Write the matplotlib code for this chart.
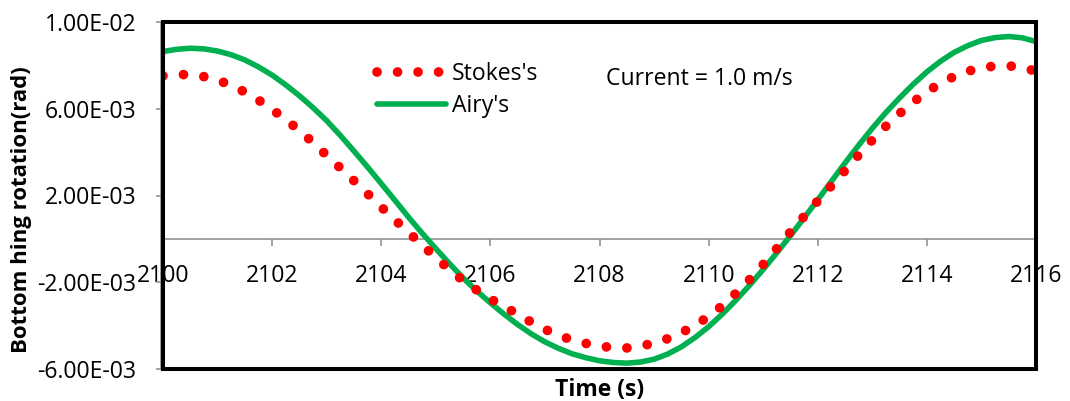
import matplotlib
matplotlib.use("Agg")
import matplotlib.pyplot as plt
from matplotlib.patches import Rectangle

plt.rcParams["font.family"] = ["Open Sans", "DejaVu Sans"]

# Time (s)
time_s = [2100.00, 2100.25, 2100.50, 2100.75, 2101.00, 2101.25, 2101.50, 2101.75,
          2102.00, 2102.25, 2102.50, 2102.75, 2103.00, 2103.25, 2103.50, 2103.75,
          2104.00, 2104.25, 2104.50, 2104.75, 2105.00, 2105.25, 2105.50, 2105.75,
          2106.00, 2106.25, 2106.50, 2106.75, 2107.00, 2107.25, 2107.50, 2107.75,
          2108.00, 2108.25, 2108.50, 2108.75, 2109.00, 2109.25, 2109.50, 2109.75,
          2110.00, 2110.25, 2110.50, 2110.75, 2111.00, 2111.25, 2111.50, 2111.75,
          2112.00, 2112.25, 2112.50, 2112.75, 2113.00, 2113.25, 2113.50, 2113.75,
          2114.00, 2114.25, 2114.50, 2114.75, 2115.00, 2115.25, 2115.50, 2115.75,
          2116.00]

# Bottom hinge rotation (rad), Stokes wave theory
stokes = [7.52e-3, 7.57e-3, 7.58e-3, 7.48e-3, 7.32e-3, 7.08e-3, 6.77e-3, 6.40e-3,
          5.97e-3, 5.50e-3, 5.00e-3, 4.44e-3, 3.85e-3, 3.27e-3, 2.68e-3, 2.08e-3,
          1.47e-3, 0.88e-3, 0.30e-3, -0.28e-3, -0.86e-3, -1.41e-3, -1.92e-3, -2.36e-3,
          -2.77e-3, -3.12e-3, -3.47e-3, -3.84e-3, -4.17e-3, -4.45e-3, -4.66e-3, -4.82e-3,
          -4.95e-3, -5.01e-3, -5.03e-3, -4.94e-3, -4.81e-3, -4.60e-3, -4.33e-3, -3.99e-3,
          -3.58e-3, -3.08e-3, -2.51e-3, -1.88e-3, -1.18e-3, -0.44e-3, 0.32e-3, 1.04e-3,
          1.75e-3, 2.45e-3, 3.15e-3, 3.87e-3, 4.56e-3, 5.20e-3, 5.78e-3, 6.31e-3,
          6.78e-3, 7.18e-3, 7.49e-3, 7.73e-3, 7.89e-3, 7.97e-3, 7.98e-3, 7.90e-3,
          7.73e-3]

# Bottom hinge rotation (rad), Airy wave theory
airy = [8.64e-3, 8.74e-3, 8.79e-3, 8.76e-3, 8.66e-3, 8.49e-3, 8.25e-3, 7.93e-3,
        7.55e-3, 7.10e-3, 6.60e-3, 6.05e-3, 5.45e-3, 4.77e-3, 4.05e-3, 3.31e-3,
        2.55e-3, 1.78e-3, 1.00e-3, 0.26e-3, -0.45e-3, -1.14e-3, -1.80e-3, -2.40e-3,
        -2.95e-3, -3.47e-3, -3.95e-3, -4.38e-3, -4.75e-3, -5.05e-3, -5.30e-3, -5.48e-3,
        -5.62e-3, -5.70e-3, -5.73e-3, -5.68e-3, -5.55e-3, -5.31e-3, -4.98e-3, -4.55e-3,
        -4.05e-3, -3.47e-3, -2.83e-3, -2.14e-3, -1.41e-3, -0.64e-3, 0.15e-3, 0.97e-3,
        1.80e-3, 2.65e-3, 3.50e-3, 4.32e-3, 5.10e-3, 5.83e-3, 6.50e-3, 7.13e-3,
        7.70e-3, 8.19e-3, 8.60e-3, 8.91e-3, 9.15e-3, 9.28e-3, 9.33e-3, 9.27e-3,
        9.10e-3]

x_ticks = [2100, 2102, 2104, 2106, 2108, 2110, 2112, 2114, 2116]
x_tick_labels = ["2100", "2102", "2104", "2106", "2108", "2110", "2112", "2114", "2116"]
y_ticks = [-6e-3, -2e-3, 2e-3, 6e-3, 1e-2]
y_tick_labels = ["-6.00E-03", "-2.00E-03", "2.00E-03", "6.00E-03", "1.00E-02"]

W, H = 1070, 401
fig = plt.figure(figsize=(W / 100, H / 100), dpi=100)
fig.patch.set_facecolor("white")

left, right, top, bottom = 163, 1036, 22, 369
ax = fig.add_axes([left / W, 1 - bottom / H, (right - left) / W, (bottom - top) / H])
ax.set_xlim(2100, 2116)
ax.set_ylim(-6e-3, 1e-2)

axis_gray = "#8a8a8a"
fs = 16.6

airy_line, = ax.plot(time_s, airy, color="#00B050", lw=4.0,
                     solid_capstyle="round", solid_joinstyle="round",
                     label="Airy's", zorder=3)
stokes_line, = ax.plot(time_s, stokes, color="#FF0000", lw=7,
                       linestyle=(0, (0.001, 2.11)), dash_capstyle="round",
                       label="Stokes's", zorder=4)

# axis lines: x axis through zero, y axis just outside the plot frame
for s in ["top", "right"]:
    ax.spines[s].set_visible(False)
ax.spines["bottom"].set_position(("data", 0))
ax.spines["bottom"].set_color(axis_gray)
ax.spines["bottom"].set_linewidth(1.1)
ax.spines["left"].set_position(("outward", 1.8))
ax.spines["left"].set_color(axis_gray)
ax.spines["left"].set_linewidth(1.1)

# black plot-area border
frame = Rectangle((0, 0), 1, 1, transform=ax.transAxes, fill=False,
                  edgecolor="black", linewidth=2.9, clip_on=False, zorder=6,
                  joinstyle="miter")
ax.add_patch(frame)

ax.set_xticks(x_ticks)
ax.set_xticklabels(x_tick_labels)
ax.set_yticks(y_ticks)
ax.set_yticklabels(y_tick_labels)
ax.tick_params(axis="x", direction="out", length=5, width=1.1, color=axis_gray,
               pad=13, labelsize=fs, labelcolor="black")
ax.tick_params(axis="y", direction="out", length=3.6, width=1.1, color=axis_gray,
               pad=13.7, labelsize=fs, labelcolor="black")

fig.text(22 / W, 1 - 210 / H, "Bottom hing rotation(rad)", rotation=90,
         ha="center", va="center", fontsize=16, fontweight="bold")
fig.text(599.5 / W, 1 - 390 / H, "Time (s)", ha="center", va="center",
         fontsize=16.5, fontweight="bold")
fig.text(606 / W, 1 - 85 / H, "Current = 1.0 m/s", fontsize=fs, va="baseline")

ax.legend(handles=[stokes_line, airy_line], loc="upper left",
          bbox_to_anchor=(377 / W, 1 - 62 / H), bbox_transform=fig.transFigure,
          frameon=False, fontsize=fs, handlelength=3.0, handletextpad=0.25,
          borderpad=0, borderaxespad=0, labelspacing=0.36)

fig.savefig("out.png", dpi=100)
